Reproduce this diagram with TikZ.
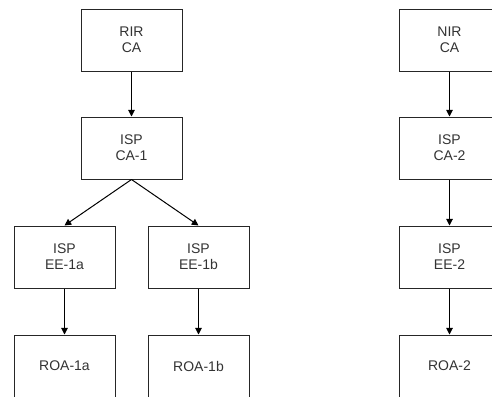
\documentclass[tikz,border=0pt]{standalone}
\usepackage{fontspec}
\setmainfont{Liberation Sans}
\usetikzlibrary{arrows.meta}
\begin{document}
\begin{tikzpicture}[x=0.75pt,y=-0.75pt,
  box/.style={draw=black!85, fill=white, line width=0.75pt, minimum width=75.75pt, minimum height=46.5pt, inner sep=0pt, align=center, text=black!80, font=\fontsize{10.5}{12}\selectfont},
  arr/.style={draw=black, line width=0.75pt, -{Triangle[length=5pt,width=5pt]}}]
\useasboundingbox (0,0) rectangle (492,396);
\clip (0,0) rectangle (492,396);
\node[box] (rir) at (131.5,40) {RIR\\CA};
\node[box] (ca1) at (131.5,148) {ISP\\CA-1};
\node[box] (ee1a) at (64.5,257) {ISP\\EE-1a};
\node[box] (ee1b) at (198.5,257) {ISP\\EE-1b};
\node[box] (roa1a) at (64.5,366) {ROA-1a};
\node[box] (roa1b) at (198.5,366) {ROA-1b};
\node[box] (nir) at (449.5,40) {NIR\\CA};
\node[box] (ca2) at (449.5,148) {ISP\\CA-2};
\node[box] (ee2) at (449.5,257) {ISP\\EE-2};
\node[box] (roa2) at (449.5,366) {ROA-2};
\draw[arr] (rir) -- (ca1);
\draw[arr] (ca1.south) -- (ee1a.north);
\draw[arr] (ca1.south) -- (ee1b.north);
\draw[arr] (ee1a) -- (roa1a);
\draw[arr] (ee1b) -- (roa1b);
\draw[arr] (nir) -- (ca2);
\draw[arr] (ca2) -- (ee2);
\draw[arr] (ee2) -- (roa2);
\end{tikzpicture}
\end{document}
